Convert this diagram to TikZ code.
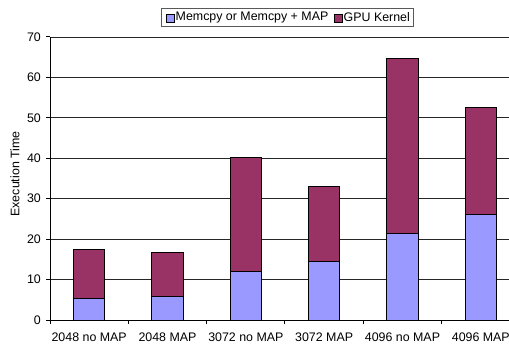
\documentclass[tikz,border=0pt]{standalone}
\usepackage{fontspec}
\setmainfont{Liberation Sans}
\definecolor{memblue}{HTML}{9999FF}
\definecolor{kernred}{HTML}{993366}
\begin{document}
\begin{tikzpicture}[x=1pt,y=-1pt,
  grid/.style={black!85,line width=0.8pt},
  axis/.style={black,line width=1pt},
  barseg/.style={draw=black,line width=0.8pt},
  lbl/.style={font=\fontsize{12.4}{14}\selectfont,inner sep=0pt}]
\useasboundingbox[fill=white] (0,0) rectangle (509,343);
% gridlines
\foreach \v in {10,20,...,70}
  \draw[grid] (50,{320-4.0429*\v}) -- (509,{320-4.0429*\v});
% y tick labels and ticks
\foreach \v in {0,10,...,70}{
  \draw[axis] (46,{320-4.0429*\v}) -- (50,{320-4.0429*\v});
  \node[lbl,anchor=east] (yl\v) at (41,{320-4.0429*\v}) {\v};
}
% bars
\foreach \i/\b/\t/\lab in {1/5.4/17.5/2048 no MAP,2/5.9/16.6/2048 MAP,3/12.0/40.2/3072 no MAP,4/14.4/33.1/3072 MAP,5/21.5/64.7/4096 no MAP,6/26.0/52.6/4096 MAP}{
  \pgfmathsetmacro{\cx}{50+78.33*(\i-0.5)}
  \fill[memblue] ({\cx-15.7},320) rectangle ({\cx+15.7},{320-4.0429*\b});
  \fill[kernred] ({\cx-15.7},{320-4.0429*\b}) rectangle ({\cx+15.7},{320-4.0429*\t});
  \draw[barseg] ({\cx-15.7},320) rectangle ({\cx+15.7},{320-4.0429*\t});
  \draw[barseg] ({\cx-15.7},{320-4.0429*\b}) -- ({\cx+15.7},{320-4.0429*\b});
  \node[lbl] (xl\i) at (\cx,337) {\lab};
}
% axes
\draw[axis] (50,37) -- (50,320);
\draw[axis] (50,320) -- (509,320);
\foreach \k in {0,...,6}
  \draw[axis] ({50+78.33*\k},320) -- ({50+78.33*\k},324);
% axis title
\node[lbl,rotate=90] (ytitle) at (15,174) {Execution Time};
% legend
\draw[black!65,line width=0.9pt,fill=white] (161.5,8.5) rectangle (413.5,26);
\draw[black,line width=0.6pt,fill=memblue] (166,14) rectangle (174,22);
\node[lbl,anchor=west] (leg1) at (175.5,17.5) {Memcpy or Memcpy + MAP};
\draw[black,line width=0.6pt,fill=kernred] (334,14) rectangle (342,22);
\node[lbl,anchor=west] (leg2) at (343.5,17.5) {GPU Kernel};
\end{tikzpicture}
\end{document}
